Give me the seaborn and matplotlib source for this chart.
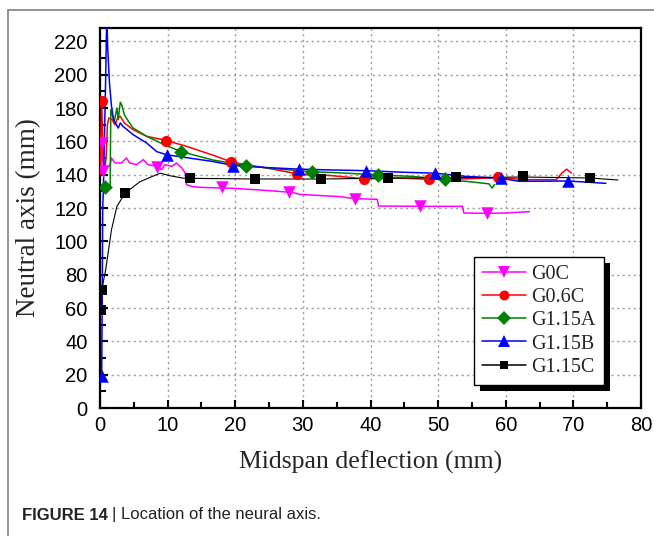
import matplotlib
matplotlib.use("Agg")
import matplotlib.pyplot as plt
from matplotlib.lines import Line2D
from matplotlib.patches import Rectangle
from matplotlib.ticker import MultipleLocator
import pandas as pd
import seaborn as sns

# ---- measured neutral-axis depth vs. midspan deflection ----
g0c_x = [0.1, 0.25, 0.4, 0.5, 1.0, 1.5, 1.7, 2.2, 3.2, 3.9, 4.4, 5.4, 6.4, 7.1, 8.4, 9.1, 9.6,
         10.6, 11.3, 12.1, 12.6, 12.8, 13.5, 14.8, 19.7, 23.6, 27.0, 28.6, 29.5, 35.5, 37.7, 41.0,
         41.2, 47.3, 53.6, 53.8, 57.3, 60.0, 63.5]
g0c_y = [140, 159, 150, 142, 144, 146, 150, 147, 147, 150, 147, 146, 149, 146, 145, 143, 146,
         145, 147, 144, 141, 134, 133, 132.4, 131.8, 130.8, 129.8, 129.2, 128.2, 126.8, 125.6, 125.2,
         121.2, 121, 121, 117, 116.8, 117, 117.8]
g0c_mx = [0.25, 0.5, 8.4, 18.0, 28.0, 37.7, 47.3, 57.3]
g0c_my = [159, 142, 144.5, 132.6, 129.4, 125.5, 121, 116.8]

g06c_x = [0.0, 0.25, 0.4, 0.6, 0.9, 1.1, 1.3, 1.8, 2.2, 2.6, 3.0, 3.6, 4.9, 6.9, 9.8, 12.8, 17.2,
          19.5, 24.6, 29.3, 34.0, 39.1, 44.0, 48.7, 54.0, 58.8, 63.0, 67.5, 68.3, 69.0, 69.7]
g06c_y = [140, 184, 160, 140, 150, 170, 174, 173, 170, 174, 175, 171, 167, 163, 160.5, 157, 151,
          147.5, 144, 140.4, 139.5, 137.5, 138, 137.2, 137.5, 138.2, 137, 137, 141, 143.3, 141]
g06c_mx = [0.25, 9.8, 19.4, 29.1, 39.1, 48.7, 58.8]
g06c_my = [184, 160.5, 147.5, 140.3, 137.3, 137.2, 138.3]

g115a_x = [0.74, 1.5, 1.6, 2.1, 2.5, 2.7, 3.0, 3.2, 3.6, 4.2, 4.9, 6.9, 9.5, 12.0, 16.7, 21.6,
           26.0, 31.3, 36.0, 41.1, 46.0, 51.0, 54.6, 57.5, 58.0, 58.3]
g115a_y = [132.8, 133, 179, 172, 180, 173, 183.5, 182, 176, 172, 168, 163, 158, 153.8, 148.8, 145.4,
           143.5, 141.8, 141, 139.8, 139, 137.2, 135.8, 134.5, 132, 134]
g115a_mx = [0.74, 12.0, 21.6, 31.3, 41.1, 51.0]
g115a_my = [132.8, 153.8, 145.4, 141.8, 139.8, 137.2]

g115b_x = [0.25, 0.35, 0.4, 0.5, 0.8, 1.0, 1.15, 1.4, 1.7, 2.0, 2.7, 3.0, 3.4, 4.9, 6.9, 8.4, 9.9,
           11.8, 16.7, 19.7, 24.5, 29.5, 34.5, 39.4, 44.5, 49.5, 54.0, 59.3, 62.0, 69.2, 74.8]
g115b_y = [19, 80, 120, 131, 190, 235, 215, 195, 181, 173, 168, 171, 169, 164, 159, 153.8, 151.9,
           150.8, 147.9, 145.5, 144.3, 143.3, 142.8, 142.4, 141.5, 140.9, 139, 137.8, 136, 136.2, 134.8]
g115b_mx = [0.25, 9.9, 19.7, 29.5, 39.4, 49.5, 59.3, 69.2]
g115b_my = [19, 151.9, 145.5, 143.3, 142.4, 140.9, 137.8, 136.2]

g115c_x = [0.2, 0.3, 0.5, 0.8, 1.2, 1.7, 2.5, 3.7, 5.9, 8.9, 10.3, 12.3, 13.3, 22.9, 32.7, 42.6,
           52.7, 62.5, 72.4, 76.6]
g115c_y = [59, 71, 76, 82, 93, 107, 121, 128.8, 135.8, 140.9, 139.4, 137.9, 137.8, 137.4, 137.4,
           137.9, 138.2, 138.6, 138, 136.8]
g115c_mx = [0.2, 0.3, 3.7, 13.3, 22.9, 32.7, 42.6, 52.7, 62.5, 72.4]
g115c_my = [59, 71, 128.8, 138.2, 137.4, 137.4, 137.9, 138.4, 139.0, 137.9]

specimens = ["G0C", "G0.6C", "G1.15A", "G1.15B", "G1.15C"]
colors = ["#ff00ff", "#ff0000", "#008000", "#0000ff", "#000000"]
markers = ["v", "o", "D", "^", "s"]
msizes = [9, 8, 7.5, 9, 7]
lwidths = [1.1, 1.1, 1.1, 1.1, 0.8]

curves = [(g0c_x, g0c_y), (g06c_x, g06c_y), (g115a_x, g115a_y), (g115b_x, g115b_y), (g115c_x, g115c_y)]
marks = [(g0c_mx, g0c_my), (g06c_mx, g06c_my), (g115a_mx, g115a_my), (g115b_mx, g115b_my),
         (g115c_mx, g115c_my)]

sns.set_style("white")
plt.rcParams["font.family"] = ["Liberation Sans", "DejaVu Sans"]

fig = plt.figure(figsize=(6.54, 5.36), dpi=100)
ax = fig.add_axes([100 / 654, 1 - 408 / 536, 541 / 654, 380 / 536])

for name, col, mk, ms, lw, (cx, cy), (mx, my) in zip(specimens, colors, markers, msizes, lwidths,
                                                      curves, marks):
    line_df = pd.DataFrame({"defl": cx, "na": cy})
    sns.lineplot(data=line_df, x="defl", y="na", ax=ax, color=col, linewidth=lw,
                 sort=False, estimator=None, zorder=3)
    mark_df = pd.DataFrame({"defl": mx, "na": my})
    sns.scatterplot(data=mark_df, x="defl", y="na", ax=ax, color=col, marker=mk,
                    s=ms ** 2, linewidth=0, zorder=4)

ax.set_xlim(0, 80)
ax.set_ylim(0, 228)
ax.xaxis.set_major_locator(MultipleLocator(10))
ax.xaxis.set_minor_locator(MultipleLocator(5))
ax.yaxis.set_major_locator(MultipleLocator(20))
ax.yaxis.set_minor_locator(MultipleLocator(10))
ax.tick_params(which="both", direction="in", bottom=True, left=True, top=False, right=False,
               width=1.5, labelsize=14.5, colors="black")
ax.tick_params(which="major", length=6)
ax.tick_params(which="minor", length=4)
ax.tick_params(axis="x", pad=6)
ax.tick_params(axis="y", pad=9)
ax.grid(True, which="major", color="#9a9a9a", linestyle=(0, (1.5, 2.5)), linewidth=1.0)
ax.set_axisbelow(True)
for sp in ax.spines.values():
    sp.set_visible(True)
    sp.set_color("black")
    sp.set_linewidth(1.6)

serif = ["Liberation Serif", "DejaVu Serif"]
ax.set_xlabel("Midspan deflection (mm)", fontfamily=serif, fontsize=18.5)
ax.set_ylabel("Neutral axis (mm)", fontfamily=serif, fontsize=19.5)
ax.xaxis.set_label_coords(0.5, (408 - 451) / 380)
ax.yaxis.set_label_coords((41 - 100) / 541, 0.5)

handles = [Line2D([0], [0], color=c, lw=1.1, marker=m, markersize=s * 0.9, markeredgewidth=0)
           for c, m, s in zip(colors, markers, msizes)]
leg = ax.legend(handles, specimens, loc="upper left",
                bbox_to_anchor=((474 - 100) / 541, (408 - 257) / 380), borderaxespad=0,
                prop={"family": serif, "size": 14.5}, frameon=True, fancybox=False,
                edgecolor="black", framealpha=1, handlelength=2.2, handletextpad=0.25,
                labelspacing=0.2, borderpad=0.4)
leg.get_frame().set_linewidth(1.0)
leg.set_zorder(5)

# solid drop shadow behind the legend box
fig.canvas.draw()
bb = leg.get_window_extent().transformed(fig.transFigure.inverted())
dx, dy = 6 / 654, 6 / 536
ax.add_patch(Rectangle((bb.x0 + dx, bb.y0 - dy), bb.width, bb.height, transform=fig.transFigure,
                       facecolor="black", edgecolor="none", zorder=4.9, clip_on=False))

# outer panel border
fig.add_artist(Line2D([8 / 654, 8 / 654], [0, 1 - 10 / 536], transform=fig.transFigure,
                      color="#808080", lw=1.2))
fig.add_artist(Line2D([8 / 654, 1], [1 - 10 / 536, 1 - 10 / 536], transform=fig.transFigure,
                      color="#808080", lw=1.2))

# caption
cap1 = fig.text(22 / 654, 1 - 515 / 536, "FIGURE 14", fontsize=12, fontweight="bold",
                color="#222222", va="center", ha="left")
fig.canvas.draw()
e1 = cap1.get_window_extent().transformed(fig.transFigure.inverted())
fig.text(e1.x1 + 4 / 654, 1 - 515 / 536, "| Location of the neural axis.", fontsize=12,
         color="#222222", va="center", ha="left")

fig.savefig("out.png", dpi=100)
